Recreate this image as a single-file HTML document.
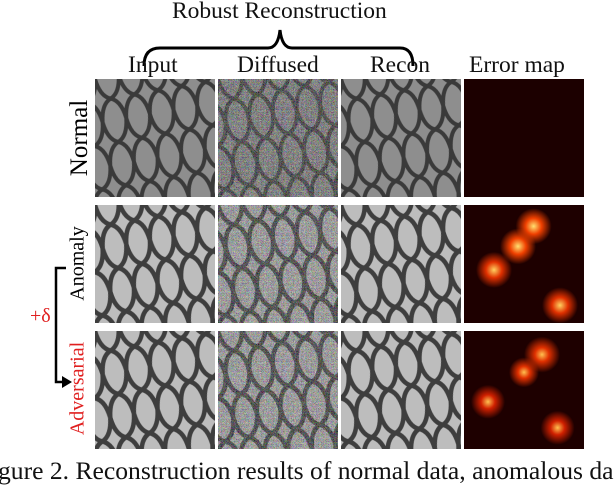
<!DOCTYPE html>
<html><head><style>
body{margin:0;width:614px;height:490px;background:#fff;overflow:hidden;position:relative;font-family:"Liberation Serif",serif}
.t{position:absolute;font-size:23.5px;color:#111;white-space:nowrap}
.tile{position:absolute;width:120px;height:118px;overflow:hidden}
.r{position:absolute;transform:rotate(-90deg);transform-origin:center;white-space:nowrap;font-size:23px}
</style></head><body>
<svg width="0" height="0" style="position:absolute">
<defs>
<pattern id="mesh" width="24" height="44" patternUnits="userSpaceOnUse" patternTransform="rotate(-10)">
<rect width="24" height="44" fill="#8e8e8e"/>
<path d="M0 0 Q2 18 12 22 Q22 26 24 44 M24 0 Q22 18 12 22 Q2 26 0 44" fill="none" stroke="#3a3a3a" stroke-width="4"/>
</pattern>
<pattern id="meshA" width="24" height="44" patternUnits="userSpaceOnUse" patternTransform="rotate(-10)">
<rect width="24" height="44" fill="#bdbdbd"/>
<path d="M0 0 Q2 18 12 22 Q22 26 24 44 M24 0 Q22 18 12 22 Q2 26 0 44" fill="none" stroke="#3e3e3e" stroke-width="4.5"/>
</pattern>
<filter id="noise"><feTurbulence type="turbulence" baseFrequency="0.8" numOctaves="1" seed="3"/><feColorMatrix type="matrix" values="1.4 0 0 0 0 0 1.4 0 0 0 0 0 1.4 0 0 0 0 0 0 0.45"/></filter>
</defs></svg>

<div class="t" style="left:172px;top:-2px">Robust Reconstruction</div>
<svg style="position:absolute;left:0;top:0" width="614" height="70">
<path d="M144 66 Q144 48 160 48 L268 48 Q278 48 280 30 Q282 48 292 48 L400 48 Q413 48 413 66" fill="none" stroke="#000" stroke-width="3"/>
</svg>
<div class="t" style="left:128px;top:52px">Input</div>
<div class="t" style="left:237px;top:52px">Diffused</div>
<div class="t" style="left:370px;top:52px">Recon</div>
<div class="t" style="left:469px;top:52px">Error map</div>

<svg class="tile" style="left:95px;top:79px"><rect width="120" height="118" fill="url(#mesh)"/></svg>
<svg class="tile" style="left:218px;top:79px"><rect width="120" height="118" fill="url(#mesh)"/><rect width="120" height="118" fill="#888" filter="url(#noise)"/></svg>
<svg class="tile" style="left:341px;top:79px"><rect width="120" height="118" fill="url(#mesh)"/></svg>
<div class="tile" style="left:464px;top:79px;background:#1c0000"></div>

<svg class="tile" style="left:95px;top:205px"><rect width="120" height="118" fill="url(#meshA)"/></svg>
<svg class="tile" style="left:218px;top:205px"><rect width="120" height="118" fill="url(#meshA)"/><rect width="120" height="118" fill="#999" filter="url(#noise)"/></svg>
<svg class="tile" style="left:341px;top:205px"><rect width="120" height="118" fill="url(#meshA)"/></svg>
<div class="tile" style="left:464px;top:205px;background:radial-gradient(circle at 58% 18%,#ffe070 0,#f04000 8px,rgba(80,0,0,0) 18px),radial-gradient(circle at 45% 35%,#ffe070 0,#f04000 8px,rgba(80,0,0,0) 18px),radial-gradient(circle at 25% 55%,#ffd060 0,#e03000 8px,rgba(80,0,0,0) 18px),radial-gradient(circle at 80% 85%,#ffd060 0,#e03000 8px,rgba(80,0,0,0) 18px),#1e0000"></div>

<svg class="tile" style="left:95px;top:331px"><rect width="120" height="118" fill="url(#meshA)"/></svg>
<svg class="tile" style="left:218px;top:331px"><rect width="120" height="118" fill="url(#meshA)"/><rect width="120" height="118" fill="#999" filter="url(#noise)"/></svg>
<svg class="tile" style="left:341px;top:331px"><rect width="120" height="118" fill="url(#meshA)"/></svg>
<div class="tile" style="left:464px;top:331px;background:radial-gradient(circle at 65% 20%,#ffc050 0,#e03000 7px,rgba(80,0,0,0) 18px),radial-gradient(circle at 50% 35%,#ffc050 0,#e03000 6px,rgba(80,0,0,0) 15px),radial-gradient(circle at 20% 60%,#ffc050 0,#d02000 7px,rgba(80,0,0,0) 17px),radial-gradient(circle at 78% 82%,#ffc050 0,#d02000 7px,rgba(80,0,0,0) 17px),#1e0000"></div>

<div class="r" style="left:38px;top:124px;width:84px;text-align:center;font-size:25px">Normal</div>
<div class="r" style="left:33px;top:252px;width:90px;text-align:center;font-size:20px">Anomaly</div>
<div class="r" style="left:18px;top:377px;width:120px;text-align:center;font-size:20px;color:#e02020">Adversarial</div>
<svg style="position:absolute;left:0;top:260px" width="80" height="140">
<path d="M66 8 L56 8 L56 122 L66 122" fill="none" stroke="#000" stroke-width="2.5"/>
<path d="M62 116 L72 122 L62 128 Z" fill="#000"/>
</svg>
<div class="t" style="left:30px;top:305px;color:#e02020;font-size:20px">+δ</div>

<div class="t" style="left:-2px;top:456px;font-size:25.6px">gure 2. Reconstruction results of normal data, anomalous da</div>
</body></html>
